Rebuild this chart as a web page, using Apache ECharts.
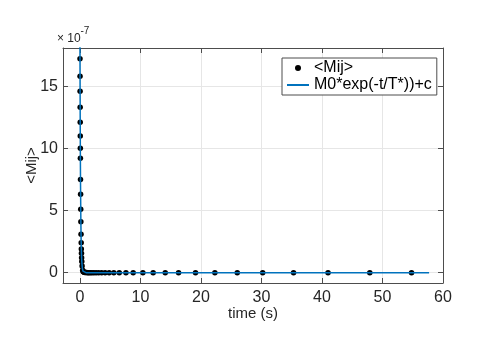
<!DOCTYPE html>
<html>
<head>
<meta charset="utf-8">
<title>Mij decay</title>
<script src="https://cdn.jsdelivr.net/npm/echarts@6/dist/echarts.min.js"></script>
<style>
  html, body { margin: 0; padding: 0; background: #fff; }
  #chart { width: 491px; height: 345px; }
</style>
</head>
<body>
<div id="chart"></div>
<script>
// measured <Mij> values (units of 1e-7) against time in s
const timeData = [
  0.010, 0.018, 0.026, 0.036, 0.045, 0.055, 0.064, 0.073, 0.093, 0.110,
  0.132, 0.153, 0.181, 0.207, 0.230, 0.250, 0.276, 0.305, 0.356, 0.455,
  0.52, 0.60, 0.70, 0.81, 0.94, 1.10, 1.27, 1.47, 1.71, 1.98,
  2.30, 2.67, 3.10, 3.59, 4.16, 4.83, 5.60, 6.50, 7.60, 8.80,
  10.4, 12.1, 14.1, 16.3, 19.1, 22.3, 26.0, 30.2, 35.3, 41.0,
  47.9, 54.8
]
const mijData = [
  17.2, 15.8, 14.6, 13.3, 12.1, 11.0, 10.0, 9.2, 7.5, 6.3,
  5.1, 4.1, 3.1, 2.4, 1.9, 1.56, 1.2, 0.9, 0.54, 0.2,
  0.1, 0.06, 0.03, 0.02, 0.01, 0.01, 0, 0, 0, 0,
  0, 0, 0, 0, 0, 0, 0, 0, 0, 0,
  0, 0, 0, 0, 0, 0, 0, 0, 0, 0,
  0, 0
]

// fitted curve M0*exp(-t/T*)+c
const fitTime = [0, 0.025, 0.05, 0.075, 0.1, 0.15, 0.2, 0.25, 0.3, 0.4, 0.5, 0.7, 1.0, 2.0, 57.7]
const fitValue = [19.0, 14.8, 11.5, 8.97, 6.99, 4.24, 2.57, 1.56, 0.95, 0.35, 0.13, 0.02, 0, 0, 0]

const xTicks = [0, 10, 20, 30, 40, 50, 60]
const yTicks = [0, 5, 10, 15]

const textColor = '#262626'
const boxColor = '#4d4d4d'
const gridColor = '#e6e6e6'
const fontFamily = '"Liberation Sans", Arial, Helvetica, sans-serif'

const chart = echarts.init(document.getElementById('chart'))

function mainAxis(pos, min, max, step, name) {
  const isX = pos === 'bottom'
  return {
    type: 'value',
    position: pos,
    min: min,
    max: max,
    minInterval: step,
    maxInterval: step,
    name: name,
    nameLocation: 'middle',
    nameGap: isX ? 23 : 24,
    nameRotate: isX ? 0 : 90,
    nameMoveOverlap: false,
    nameTextStyle: { color: textColor, fontSize: 15, fontFamily: fontFamily },
    axisLine: { show: true, onZero: false, lineStyle: { color: boxColor, width: 1 } },
    axisTick: { show: true, inside: true, length: 5, lineStyle: { color: boxColor } },
    axisLabel: {
      show: true,
      color: textColor,
      fontSize: 16,
      fontFamily: fontFamily,
      margin: isX ? 7 : 5,
      showMinLabel: false,
      showMaxLabel: isX,
      formatter: function (v) {
        const list = isX ? xTicks : yTicks
        return list.indexOf(v) >= 0 ? String(v) : ''
      }
    },
    splitLine: { show: true, lineStyle: { color: gridColor, width: 1 } }
  }
}

// mirror axes give the closed box with ticks on top and right
function mirrorAxis(pos, min, max, step) {
  return {
    type: 'value',
    position: pos,
    min: min,
    max: max,
    minInterval: step,
    maxInterval: step,
    axisLine: { show: true, onZero: false, lineStyle: { color: boxColor, width: 1 } },
    axisTick: { show: true, inside: true, length: 5, lineStyle: { color: boxColor } },
    axisLabel: { show: false },
    splitLine: { show: false }
  }
}

chart.setOption({
  animation: false,
  backgroundColor: '#fff',
  textStyle: { fontFamily: fontFamily },
  grid: { left: 63, right: 48, top: 48, bottom: 62 },
  xAxis: [
    mainAxis('bottom', -2.8, 60, 10, 'time (s)'),
    mirrorAxis('top', -2.8, 60, 10)
  ],
  yAxis: [
    mainAxis('left', -0.83, 18.07, 5, '<Mij>'),
    mirrorAxis('right', -0.83, 18.07, 5)
  ],
  legend: {
    left: 282,
    top: 58,
    orient: 'vertical',
    align: 'left',
    backgroundColor: '#fff',
    borderColor: boxColor,
    borderWidth: 1,
    borderRadius: 0,
    padding: [2, 5, 2, 4],
    itemGap: 1,
    itemWidth: 22,
    itemHeight: 6,
    textStyle: { color: '#000', fontSize: 16, fontFamily: fontFamily },
    data: [
      { name: '<Mij>', icon: 'circle' },
      // line only, hide the marker echarts puts in the middle
      { name: 'M0*exp(-t/T*))+c', itemStyle: { color: 'rgba(0,0,0,0)', borderColor: 'rgba(0,0,0,0)', borderWidth: 0 } }
    ],
    z: 10
  },
  // MATLAB style exponent above the y axis
  graphic: [
    {
      type: 'text',
      x: 57,
      y: 39,
      style: { text: '× 10', fill: textColor, font: '12px ' + fontFamily, verticalAlign: 'middle' }
    },
    {
      type: 'text',
      x: 80.5,
      y: 31,
      style: { text: '-7', fill: textColor, font: '10px ' + fontFamily, verticalAlign: 'middle' }
    }
  ],
  series: [
    {
      name: '<Mij>',
      type: 'scatter',
      symbol: 'circle',
      symbolSize: 5.5,
      itemStyle: { color: '#000', opacity: 1 },
      data: timeData.map((t, i) => [t, mijData[i]]),
      z: 2
    },
    {
      name: 'M0*exp(-t/T*))+c',
      type: 'line',
      showSymbol: false,
      symbol: 'none',
      lineStyle: { color: '#0072BD', width: 1.5 },
      itemStyle: { color: '#0072BD' },
      data: fitTime.map((t, i) => [t, fitValue[i]]),
      clip: true,
      z: 3
    }
  ]
})
</script>
</body>
</html>
